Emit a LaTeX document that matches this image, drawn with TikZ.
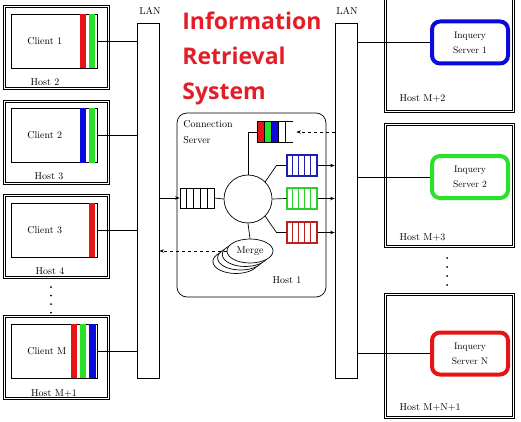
\documentclass[tikz,border=0pt]{standalone}
\usepackage{fontspec}
\newfontfamily\titlefont{Open Sans}
\usetikzlibrary{shapes.geometric,arrows.meta}

\definecolor{barred}{RGB}{230,20,20}
\definecolor{bargreen}{RGB}{40,225,40}
\definecolor{barblue}{RGB}{10,10,220}
\definecolor{qblue}{RGB}{30,30,170}
\definecolor{qgreen}{RGB}{40,210,40}
\definecolor{qred}{RGB}{190,30,30}
\definecolor{titlered}{RGB}{228,30,40}

\tikzset{
  lan/.style={draw, minimum width=22pt, minimum height=355pt, inner sep=0pt},
  hostL/.style={draw, double, double distance=1.4pt, line width=0.75pt, minimum width=104pt, minimum height=82pt, inner sep=0pt},
  hostR/.style={draw, double, double distance=1.4pt, line width=0.75pt, minimum width=128pt, inner sep=0pt},
  client/.style={draw, minimum width=86pt, minimum height=54pt, inner sep=0pt},
  inquery/.style={draw, line width=4pt, rounded corners=8pt, minimum width=76pt, minimum height=42pt, align=center, font=\fontsize{9.5}{15}\selectfont},
  queue/.style={minimum width=30pt, minimum height=21pt, inner sep=0pt},
  dot/.style={circle, fill, inner sep=0pt, minimum size=2pt},
}

\begin{document}
\begin{tikzpicture}[x=1pt, y=-1pt, line width=0.7pt, font=\fontsize{10}{12}\selectfont,
    >={Stealth[length=4.5pt,width=3.5pt]}]

        \clip (0,0) rectangle (521,422);

        % Title
        \node[anchor=north west, inner sep=0pt, align=left, text=titlered,
              font=\titlefont\bfseries\fontsize{23}{35}\selectfont] (title) at (182,12) {Information\\Retrieval\\System};

        % LAN bars
        \node[lan] (lanL) at (148,200.5) {};
        \node[lan] (lanR) at (346,200.5) {};
        \node at (150,11) {LAN};
        \node at (347,11) {LAN};

        % Client hosts
        \node[hostL] (host2) at (56.5,47.5) {};
        \node[hostL] (host3) at (56.5,142.6) {};
        \node[hostL] (host4) at (56.5,236.5) {};
        \node[hostL] (hostM1) at (56.5,357.5) {};

        \node[client] (c1) at (54,41) {};
        \node[client] (c2) at (54,135.5) {};
        \node[client] (c3) at (54,230) {};
        \node[client] (cM) at (54,351) {};

        % Colour bars of the clients
        \fill[barred] ([xshift=-17pt]c1.north east) rectangle ([xshift=-11pt]c1.south east);
        \fill[bargreen] ([xshift=-8pt]c1.north east) rectangle ([xshift=-2pt]c1.south east);
        \fill[barblue] ([xshift=-17pt]c2.north east) rectangle ([xshift=-11pt]c2.south east);
        \fill[bargreen] ([xshift=-8pt]c2.north east) rectangle ([xshift=-2pt]c2.south east);
        \fill[barred] ([xshift=-8pt]c3.north east) rectangle ([xshift=-2pt]c3.south east);
        \fill[barred] ([xshift=-26pt]cM.north east) rectangle ([xshift=-20pt]cM.south east);
        \fill[bargreen] ([xshift=-17pt]cM.north east) rectangle ([xshift=-11pt]cM.south east);
        \fill[barblue] ([xshift=-8pt]cM.north east) rectangle ([xshift=-1pt]cM.south east);

        \node[anchor=west] (t1) at ([xshift=13pt]c1.west) {Client 1};
        \node[anchor=west] (t2) at ([xshift=13pt]c2.west) {Client 2};
        \node[anchor=west] (t3) at ([xshift=13pt]c3.west) {Client 3};
        \node[anchor=west] (tM) at ([xshift=13pt]cM.west) {Client M};

        \node at (45,82) {Host 2};
        \node at (49,176.5) {Host 3};
        \node at (50,271) {Host 4};
        \node at (54,393) {Host M+1};

        \foreach \y in {287,295.5,304,312.5}
            \node[dot] at (51,\y) {};

        \draw (c1.east) -- (c1.east -| lanL.west);
        \draw (c2.east) -- (c2.east -| lanL.west);
        \draw (c3.east) -- (c3.east -| lanL.west);
        \draw (cM.east) -- (cM.east -| lanL.west);

        % Inquery server hosts
        \node[hostR, minimum height=131pt] (hostM2) at (449.5,46) {};
        \node[hostR, minimum height=122pt] (hostM3) at (449.5,185.5) {};
        \node[hostR, minimum height=123pt] (hostMN1) at (449.5,356) {};

        \node[inquery, draw=barblue] (s1) at (470,42.5) {Inquery\\Server 1};
        \node[inquery, draw=bargreen] (s2) at (470,177) {Inquery\\Server 2};
        \node[inquery, draw=barred] (sN) at (470,353.5) {Inquery\\Server N};

        \node[anchor=west] at (396,99) {Host M+2};
        \node[anchor=west] at (396,237) {Host M+3};
        \node[anchor=west] at (396,407) {Host M+N+1};

        \foreach \y in {258,267,276,285}
            \node[dot] at (447,\y) {};

        \draw (lanR.east |- s1.west) -- (s1.west);
        \draw (lanR.east |- s2.west) -- (s2.west);
        \draw (lanR.east |- sN.west) -- (sN.west);

        % Connection server (Host 1)
        \node[draw, rounded corners=10pt, minimum width=149pt, minimum height=184pt] (host1) at (251.5,205) {};
        \node[anchor=north west, align=left, inner sep=0pt, font=\fontsize{10}{16}\selectfont] at (183,120) {Connection\\Server};
        \node at (287,280) {Host 1};

        \node[draw, circle, minimum size=48pt, inner sep=0pt] (hub) at (248,199) {};

        % Input queue
        \node[queue, draw, minimum width=34pt, minimum height=20pt] (qIn) at (197,198) {};
        \foreach \i in {1,...,4}
            \draw ([xshift=\i*6.8pt]qIn.north west) -- ([xshift=\i*6.8pt]qIn.south west);

        % Result queue
        \node[queue, minimum width=35pt, minimum height=20pt] (qTop) at (275.5,132) {};
        \fill[barred] (qTop.north west) rectangle ([xshift=7pt]qTop.south west);
        \fill[bargreen] ([xshift=7pt]qTop.north west) rectangle ([xshift=14pt]qTop.south west);
        \fill[barblue] ([xshift=14pt]qTop.north west) rectangle ([xshift=21pt]qTop.south west);
        \draw (qTop.north east) -- (qTop.north west) -- (qTop.south west) -- (qTop.south east);
        \foreach \i in {1,...,4}
            \draw ([xshift=\i*7pt]qTop.north west) -- ([xshift=\i*7pt]qTop.south west);

        % Queues to the inquery servers
        \node[queue, draw=qblue, line width=1.1pt] (qB) at (302,165.5) {};
        \node[queue, draw=qgreen, line width=1.1pt] (qG) at (302,198.5) {};
        \node[queue, draw=qred, line width=1.1pt] (qR) at (302,232.5) {};
        \foreach \q/\c in {qB/qblue, qG/qgreen, qR/qred}
            \foreach \i in {1,...,4}
                \draw[\c, line width=1.1pt] ([xshift=\i*6pt]\q.north west) -- ([xshift=\i*6pt]\q.south west);

        % Merge
        \coordinate (mc) at (250,251);
        \foreach \k in {3,2,1}
            \draw[fill=white] ([shift={(-4.7*\k,3.5*\k)}]mc) ellipse (23 and 12);
        \node[draw, fill=white, ellipse, minimum width=46pt, minimum height=24pt, inner sep=0pt] (merge) at (mc) {Merge};

        % Links
        \draw[->] (qIn.west -| lanL.east) -- (qIn.west);
        \draw (qIn.east) -- (hub.west);
        \draw (hub.north) |- (qTop.west);
        \draw[dashed, ->] (qTop.east -| lanR.west) -- ([xshift=3pt]qTop.east);
        \draw (hub.45) -- ([xshift=-10pt]qB.west) -- (qB.west);
        \draw (hub.east) -- (qG.west);
        \draw (hub.-45) -- ([xshift=-10pt]qR.west) -- (qR.west);
        \draw[->] (qB.east) -- (qB.east -| lanR.west);
        \draw[->] (qG.east) -- (qG.east -| lanR.west);
        \draw[->] (qR.east) -- (qR.east -| lanR.west);
        \draw (hub.south) -- (merge.north);
        \draw[dashed, ->] (merge.west) -- (merge.west -| lanL.east);

    \end{tikzpicture}
\end{document}
